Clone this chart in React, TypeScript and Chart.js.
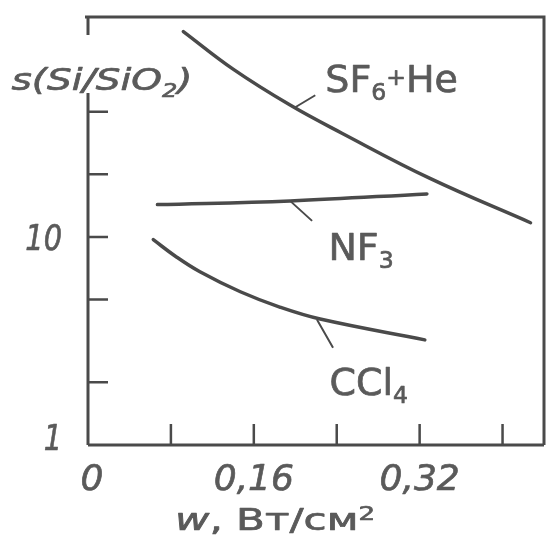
import React, { useEffect, useRef } from "react";
import { Chart, registerables } from "chart.js";

Chart.register(...registerables);

// ---- data ----
const sf6X = [0.092, 0.14, 0.195, 0.245, 0.33, 0.427];
const sf6Y = [97, 64, 43, 31.5, 19.1, 11.7];
const nf3X = [0.067, 0.195, 0.327];
const nf3Y = [14.3, 14.9, 16.1];
const ccl4X = [0.063, 0.084, 0.108, 0.147, 0.185, 0.224, 0.325];
const ccl4Y = [9.7, 8.1, 6.8, 5.45, 4.6, 4.03, 3.2];

const xTickValues = [0.08, 0.16, 0.24, 0.32, 0.4];
const xLabelValues = [0, 0.16, 0.32];
const xLabelTexts = ["0", "0,16", "0,32"];
const yTickValues = [2, 5, 10, 20, 40];
const yLabelValues = [1, 10];
const yLabelTexts = ["1", "10"];

const xMin = 0;
const xMax = 0.44;
const yMin = 1;
const yMax = 114;

// label anchors in data space: [x, y]
const sf6Leader = [0.2, 42];
const nf3Leader = [0.195, 14.9];
const ccl4Leader = [0.221, 4.0];
const sf6LabelAt = [0.229, 49.8];
const nf3LabelAt = [0.232, 7.75];
const ccl4LabelAt = [0.233, 1.74];

const INK = "#4a4a4a";
const TEXT = "#5a5a5a";
const FONT = "'DejaVu Sans', 'Noto Sans', sans-serif";

type Part = { t: string; sub?: boolean; small?: boolean; sup?: boolean; italic?: boolean };

function partFont(p: Part, size: number, italic: boolean) {
  const s = p.sub || p.small || p.sup ? size * 0.62 : size;
  const it = p.italic !== undefined ? p.italic : italic;
  return `${it ? "italic " : ""}${s}px ${FONT}`;
}

function drawParts(
  ctx: CanvasRenderingContext2D,
  parts: Part[],
  x: number,
  baseline: number,
  size: number,
  italic: boolean,
  align: "left" | "center" | "right",
  targetWidth?: number,
  scaleX?: number
) {
  let w = 0;
  const widths: number[] = [];
  for (const p of parts) {
    ctx.font = partFont(p, size, italic);
    const m = ctx.measureText(p.t).width;
    widths.push(m);
    w += m;
  }
  const sx = targetWidth ? targetWidth / w : scaleX || 1;
  const total = w * sx;
  let start = x;
  if (align === "center") start = x - total / 2;
  if (align === "right") start = x - total;
  ctx.save();
  ctx.translate(start, baseline);
  ctx.scale(sx, 1);
  ctx.textAlign = "left";
  ctx.textBaseline = "alphabetic";
  ctx.fillStyle = TEXT;
  ctx.strokeStyle = TEXT;
  ctx.lineWidth = 0.7;
  ctx.lineJoin = "round";
  let cx = 0;
  parts.forEach((p, i) => {
    ctx.font = partFont(p, size, italic);
    let dy = 0;
    if (p.sub) dy = size * 0.22;
    if (p.small) dy = -size * 0.18;
    if (p.sup) dy = -size * 0.32;
    ctx.fillText(p.t, cx, dy);
    ctx.strokeText(p.t, cx, dy);
    cx += widths[i];
  });
  ctx.restore();
}

const framePlugin = {
  id: "framePlugin",
  beforeDatasetsDraw(chart: any) {
    chart.ctx.save();
    chart.ctx.filter = "blur(0.6px)";
  },
  afterDatasetsDraw(chart: any) {
    chart.ctx.restore();
  },
  afterDraw(chart: any) {
    const ctx: CanvasRenderingContext2D = chart.ctx;
    const { left: L, right: R, top: T, bottom: B } = chart.chartArea;
    const xs = chart.scales.x;
    const ys = chart.scales.y;
    ctx.save();
    ctx.filter = "blur(0.6px)";
    ctx.strokeStyle = INK;
    ctx.lineCap = "butt";

    // frame
    ctx.lineWidth = 3;
    ctx.beginPath();
    ctx.moveTo(L - 3, T);
    ctx.lineTo(R, T);
    ctx.lineTo(R, B);
    ctx.moveTo(L, B);
    ctx.lineTo(R, B);
    // left axis with gap for title
    const titleY = T + 45;
    ctx.moveTo(L, T);
    ctx.lineTo(L, titleY - 27);
    ctx.moveTo(L, titleY + 31);
    ctx.lineTo(L, B);
    ctx.stroke();

    // ticks
    ctx.lineWidth = 2.5;
    ctx.beginPath();
    for (const v of yTickValues) {
      const y = ys.getPixelForValue(v);
      ctx.moveTo(L, y);
      ctx.lineTo(L + 20, y);
    }
    for (const v of xTickValues) {
      const x = xs.getPixelForValue(v);
      ctx.moveTo(x, B);
      ctx.lineTo(x, B - 21);
    }
    ctx.stroke();

    // tick labels
    yLabelValues.forEach((v, i) => {
      const y = Math.min(ys.getPixelForValue(v), B - 8);
      drawParts(ctx, [{ t: yLabelTexts[i] }], L - 26, y + 13, 36, true, "right", undefined, 0.8);
    });
    xLabelValues.forEach((v, i) => {
      const x = xs.getPixelForValue(v);
      drawParts(ctx, [{ t: xLabelTexts[i] }], x + (v === 0 ? 4 : 0), B + 45, 36, true, "center");
    });

    // axis titles
    drawParts(
      ctx,
      [{ t: "s(Si/SiO" }, { t: "2", sub: true }, { t: ")" }],
      102,
      titleY + 28,
      31,
      true,
      "center",
      181
    );
    drawParts(
      ctx,
      [{ t: "w", italic: true }, { t: ", Вт/см", italic: false }, { t: "2", sup: true, italic: false }],
      (L + R) / 2 - 41,
      B + 85,
      30,
      false,
      "center",
      200
    );

    // leaders
    ctx.lineWidth = 2;
    ctx.beginPath();
    const leaders: [number[], number, number][] = [
      [sf6Leader, 20, -12],
      [nf3Leader, 22, 20],
      [ccl4Leader, 16, 28],
    ];
    for (const [p, dx, dy] of leaders) {
      const x = xs.getPixelForValue(p[0]);
      const y = ys.getPixelForValue(p[1]);
      ctx.moveTo(x, y);
      ctx.lineTo(x + dx, y + dy);
    }
    ctx.stroke();

    // curve labels
    drawParts(
      ctx,
      [{ t: "SF" }, { t: "6", sub: true }, { t: "+", small: true }, { t: "He" }],
      xs.getPixelForValue(sf6LabelAt[0]),
      ys.getPixelForValue(sf6LabelAt[1]),
      38,
      false,
      "left"
    );
    drawParts(
      ctx,
      [{ t: "NF" }, { t: "3", sub: true }],
      xs.getPixelForValue(nf3LabelAt[0]),
      ys.getPixelForValue(nf3LabelAt[1]),
      38,
      false,
      "left"
    );
    drawParts(
      ctx,
      [{ t: "CCl" }, { t: "4", sub: true }],
      xs.getPixelForValue(ccl4LabelAt[0]),
      ys.getPixelForValue(ccl4LabelAt[1]),
      38,
      false,
      "left"
    );
    ctx.restore();
  },
};

function toPoints(xs: number[], ys: number[]) {
  return xs.map((x, i) => ({ x, y: ys[i] }));
}

export default function App() {
  const ref = useRef<HTMLCanvasElement | null>(null);
  useEffect(() => {
    if (!ref.current) return;
    const lineStyle = {
      borderColor: INK,
      borderWidth: 3.5,
      pointRadius: 0,
      fill: false,
      tension: 0.4,
      borderCapStyle: "round" as const,
    };
    const chart = new Chart(ref.current, {
      type: "line",
      data: {
        datasets: [
          { label: "SF6+He", data: toPoints(sf6X, sf6Y), ...lineStyle },
          { label: "NF3", data: toPoints(nf3X, nf3Y), ...lineStyle },
          { label: "CCl4", data: toPoints(ccl4X, ccl4Y), ...lineStyle },
        ],
      },
      options: {
        animation: false,
        responsive: false,
        events: [],
        layout: { padding: { left: 88, top: 17, right: 4, bottom: 98 } },
        plugins: { legend: { display: false }, tooltip: { enabled: false } },
        scales: {
          x: { type: "linear", min: xMin, max: xMax, display: false },
          y: { type: "logarithmic", min: yMin, max: yMax, display: false },
        },
      },
      plugins: [framePlugin],
    });
    return () => chart.destroy();
  }, []);
  return (
    <div style={{ position: "absolute", left: 0, top: 0, width: 548, height: 543, background: "#fff" }}>
      <canvas ref={ref} width={548} height={543} />
    </div>
  );
}
